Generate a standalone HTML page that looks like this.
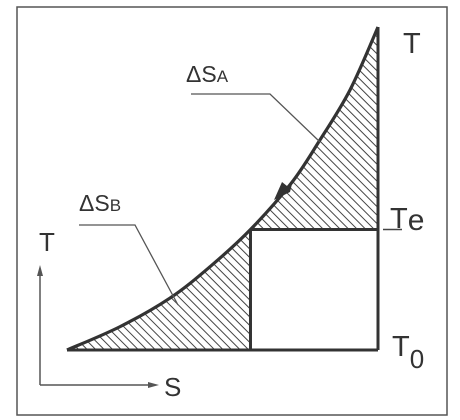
<!DOCTYPE html>
<html><head><meta charset="utf-8"><style>
html,body{margin:0;padding:0;background:#fff}
svg{display:block}
text{font-family:"Liberation Sans",sans-serif;fill:#333}
</style></head><body>
<svg id="chart" width="460" height="420" viewBox="0 0 460 420">
<defs>
<pattern id="hatch" patternUnits="userSpaceOnUse" width="6" height="6" patternTransform="rotate(-45)">
<line x1="0" y1="0" x2="0" y2="6" stroke="#444" stroke-width="2"/>
</pattern>
</defs>
<rect x="17" y="7" width="430" height="408" fill="none" stroke="#555" stroke-width="1.5"/>
<g id="plot"></g>
<text x="403" y="53" font-size="29">T</text>
<text x="390" y="228" font-size="29">T<tspan font-size="30" dy="2">e</tspan></text>
<text x="392" y="356" font-size="29">T<tspan font-size="26" dy="12">0</tspan></text>
<text x="186" y="82" font-size="23">ΔS<tspan font-size="17">A</tspan></text>
<text x="79" y="211" font-size="23">ΔS<tspan font-size="17">B</tspan></text>
<polyline points="191,94 270,94 320,142" fill="none" stroke="#555" stroke-width="1.3"/>
<polyline points="79,225 135,225 178,305" fill="none" stroke="#555" stroke-width="1.3"/>
<text x="39" y="251" font-size="26">T</text>
<text x="164" y="396" font-size="26">S</text>
<line x1="40" y1="385" x2="40" y2="272" stroke="#555" stroke-width="1.5"/>
<polygon points="40,265 37,276 43,276" fill="#555"/>
<line x1="40" y1="385" x2="152" y2="385" stroke="#555" stroke-width="1.5"/>
<polygon points="159,385 148,382 148,388" fill="#555"/>
</svg>
<script>
const sVals = [0, 0.17, 0.33, 0.46, 0.59, 0.72, 0.81, 0.91, 1.0];
const tVals = [0, 0.072, 0.160, 0.258, 0.373, 0.515, 0.645, 0.805, 1.0];
const sE = 0.59;   // entropy where T = Te
const tE = 0.373;  // Te level
const xs = s => 67 + s * 311;
const ys = t => 350 - t * 323;
const g = document.getElementById('plot');
const NS = 'http://www.w3.org/2000/svg';
function mk(tag, attrs){const e=document.createElementNS(NS,tag);for(const k in attrs)e.setAttribute(k,attrs[k]);g.appendChild(e);return e;}
function pathFrom(pts){
  let d=`M${pts[0][0]},${pts[0][1]}`;
  for(let i=0;i<pts.length-1;i++){
    const p0=pts[Math.max(i-1,0)],p1=pts[i],p2=pts[i+1],p3=pts[Math.min(i+2,pts.length-1)];
    const c1=[p1[0]+(p2[0]-p0[0])/6,p1[1]+(p2[1]-p0[1])/6];
    const c2=[p2[0]-(p3[0]-p1[0])/6,p2[1]-(p3[1]-p1[1])/6];
    d+=` C${c1[0]},${c1[1]} ${c2[0]},${c2[1]} ${p2[0]},${p2[1]}`;
  }
  return d;
}
const all = sVals.map((s,i)=>[xs(s),ys(tVals[i])]);
const iE = sVals.indexOf(sE);
const low = all.slice(0,iE+1), high = all.slice(iE);
const pB = mk('path',{d:pathFrom(low)+` L${xs(sE)},${ys(0)} Z`,fill:'url(#hatch)',stroke:'none'});


const pA = mk('path',{d:pathFrom(high)+` L${xs(1)},${ys(tE)} Z`,fill:'url(#hatch)',stroke:'none'});


const curve = mk('path',{d:pathFrom(all),fill:'none',stroke:'#333','stroke-width':3.2});


const lines=[
 ['bottom-line-T0',xs(0),ys(0),xs(1),ys(0)],
 ['right-line',xs(1),ys(1),xs(1),ys(0)],
 ['te-line',xs(sE),ys(tE),xs(1),ys(tE)],
 ['mid-vertical',xs(sE),ys(tE),xs(sE),ys(0)]
];
for(const [n,x1,y1,x2,y2] of lines){
  const l=mk('line',{x1,y1,x2,y2,stroke:'#333','stroke-width':3});
  
  
}
const tick=mk('line',{x1:xs(1)+5,y1:ys(tE),x2:xs(1)+24,y2:ys(tE),stroke:'#444','stroke-width':1.5});


const arr=mk('polygon',{points:'274,200 282,182 287,186 292,184 290,192',fill:'#333'});


</script>
</body></html>
